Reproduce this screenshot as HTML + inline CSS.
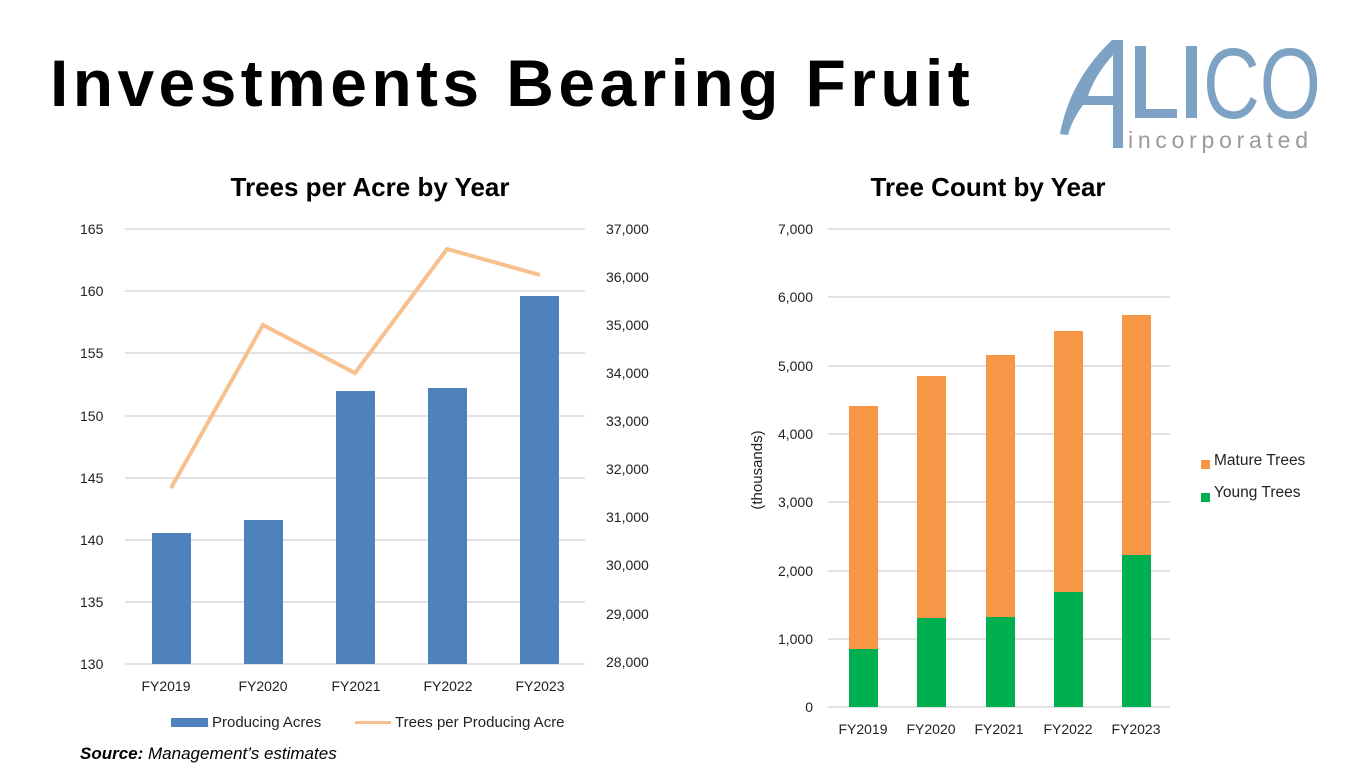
<!DOCTYPE html>
<html><head><style>
body{margin:0;background:#fff;}
svg{display:block;font-family:"Liberation Sans",sans-serif;}
</style></head><body>
<svg width="1365" height="768" viewBox="0 0 1365 768">
<text x="50" y="106" font-size="66" font-weight="bold" letter-spacing="4.4" fill="#000">Investments Bearing Fruit</text>
<!-- logo -->
<g fill="#7ea2c3">
<path d="M1112 40 L1123 40 L1123 148 L1113 148 L1113 105 L1083 105 Q1072 120 1068 135 L1060 134 Q1070 80 1112 40 Z M1113 55 Q1095 75 1088 96 L1113 96 Z"/>
<rect x="1135" y="46" width="11" height="72"/><rect x="1135" y="109" width="42" height="9"/>
<rect x="1186" y="46" width="11" height="72"/>
</g>
<text x="1203" y="118" font-size="100" fill="#7ea2c3" textLength="118" lengthAdjust="spacingAndGlyphs">CO</text>
<text x="1128" y="148" font-size="23" fill="#9a9a9a" textLength="180" lengthAdjust="spacing">incorporated</text>

<!-- left chart -->
<text x="370" y="196" font-size="26" font-weight="bold" text-anchor="middle">Trees per Acre by Year</text>
<g stroke="#d9d9d9" stroke-width="1.5">
<line x1="125" x2="585" y1="229" y2="229"/><line x1="125" x2="585" y1="291" y2="291"/><line x1="125" x2="585" y1="353" y2="353"/><line x1="125" x2="585" y1="416" y2="416"/><line x1="125" x2="585" y1="478" y2="478"/><line x1="125" x2="585" y1="540" y2="540"/><line x1="125" x2="585" y1="602" y2="602"/><line x1="125" x2="585" y1="664" y2="664"/>
</g>
<g font-size="14" fill="#222">
<text x="80" y="234">165</text><text x="80" y="296">160</text><text x="80" y="358">155</text><text x="80" y="421">150</text><text x="80" y="483">145</text><text x="80" y="545">140</text><text x="80" y="607">135</text><text x="80" y="669">130</text>
<text x="606" y="234">37,000</text><text x="606" y="282">36,000</text><text x="606" y="330">35,000</text><text x="606" y="378">34,000</text><text x="606" y="426">33,000</text><text x="606" y="474">32,000</text><text x="606" y="522">31,000</text><text x="606" y="570">30,000</text><text x="606" y="619">29,000</text><text x="606" y="667">28,000</text>
</g>
<g fill="#4f81bd">
<rect x="152" y="533" width="39" height="131"/><rect x="244" y="520" width="39" height="144"/><rect x="336" y="391" width="39" height="273"/><rect x="428" y="388" width="39" height="276"/><rect x="520" y="296" width="39" height="368"/>
</g>
<polyline points="171,488 263,325 355,373 447,249 540,275" fill="none" stroke="#f8c08f" stroke-width="4"/>
<g font-size="14" fill="#222" text-anchor="middle">
<text x="166" y="691">FY2019</text><text x="263" y="691">FY2020</text><text x="356" y="691">FY2021</text><text x="448" y="691">FY2022</text><text x="540" y="691">FY2023</text>
</g>
<rect x="171" y="718" width="37" height="9" fill="#4f81bd"/>
<text x="212" y="727" font-size="15" fill="#222">Producing Acres</text>
<rect x="355" y="721" width="36" height="3" fill="#f8c08f"/>
<text x="395" y="727" font-size="15" fill="#222">Trees per Producing Acre</text>
<text x="80" y="759" font-size="17" font-style="italic" fill="#000"><tspan font-weight="bold">Source:</tspan> Management’s estimates</text>

<!-- right chart -->
<text x="988" y="196" font-size="26" font-weight="bold" text-anchor="middle">Tree Count by Year</text>
<g stroke="#d9d9d9" stroke-width="1.5">
<line x1="828" x2="1170" y1="229" y2="229"/><line x1="828" x2="1170" y1="297" y2="297"/><line x1="828" x2="1170" y1="366" y2="366"/><line x1="828" x2="1170" y1="434" y2="434"/><line x1="828" x2="1170" y1="502" y2="502"/><line x1="828" x2="1170" y1="571" y2="571"/><line x1="828" x2="1170" y1="639" y2="639"/><line x1="828" x2="1170" y1="707" y2="707"/>
</g>
<g font-size="14" fill="#222" text-anchor="end">
<text x="813" y="234">7,000</text><text x="813" y="302">6,000</text><text x="813" y="371">5,000</text><text x="813" y="439">4,000</text><text x="813" y="507">3,000</text><text x="813" y="576">2,000</text><text x="813" y="644">1,000</text><text x="813" y="712">0</text>
</g>
<text transform="translate(762,470) rotate(-90)" font-size="15" fill="#222" text-anchor="middle">(thousands)</text>
<g fill="#f79646">
<rect x="849" y="406" width="29" height="243"/><rect x="917" y="376" width="29" height="242"/><rect x="986" y="355" width="29" height="262"/><rect x="1054" y="331" width="29" height="261"/><rect x="1122" y="315" width="29" height="240"/>
</g>
<g fill="#00b050">
<rect x="849" y="649" width="29" height="58"/><rect x="917" y="618" width="29" height="89"/><rect x="986" y="617" width="29" height="90"/><rect x="1054" y="592" width="29" height="115"/><rect x="1122" y="555" width="29" height="152"/>
</g>
<g font-size="14" fill="#222" text-anchor="middle">
<text x="863" y="734">FY2019</text><text x="931" y="734">FY2020</text><text x="999" y="734">FY2021</text><text x="1068" y="734">FY2022</text><text x="1136" y="734">FY2023</text>
</g>
<rect x="1201" y="460" width="9" height="9" fill="#f79646"/>
<text x="1214" y="465" font-size="15.5" fill="#222">Mature Trees</text>
<rect x="1201" y="493" width="9" height="9" fill="#00b050"/>
<text x="1214" y="497" font-size="15.5" fill="#222">Young Trees</text>
</svg>
</body></html>
